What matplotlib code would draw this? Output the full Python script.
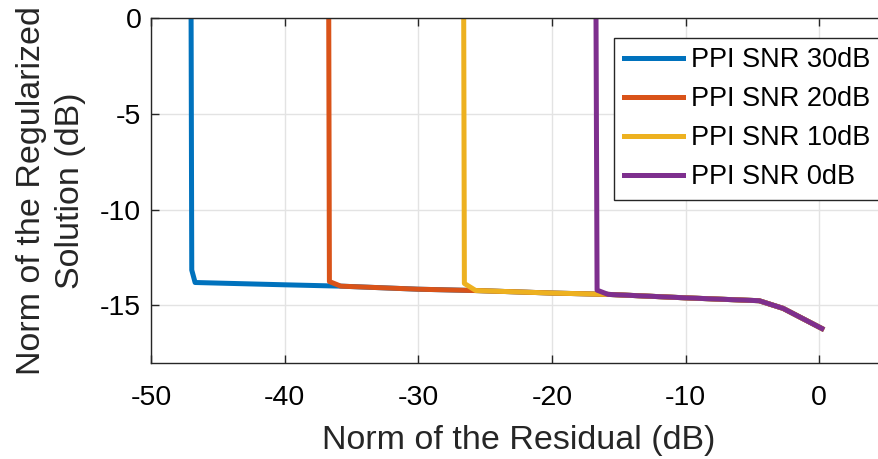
import numpy as np
from matplotlib import pyplot as plt

plt.rcParams["font.family"] = ["Liberation Sans", "DejaVu Sans"]
plt.rcParams["axes.unicode_minus"] = False

labels = ["PPI SNR 30dB", "PPI SNR 20dB", "PPI SNR 10dB", "PPI SNR 0dB"]
colors = ["#0072BD", "#D95319", "#EDB120", "#7E2F8E"]

# shared tail of the L-curves (residual dB, solution dB)
tail_x = [-46.7, -40.0, -35.8, -30.0, -25.7, -20.0, -15.8, -10.0, -4.5, -2.7, 0.2]
tail_y = [-13.80, -13.92, -13.99, -14.15, -14.22, -14.35, -14.42, -14.60, -14.75, -15.15, -16.20]

# vertical part of each curve: x at top, x and y at the knee
vert_top_x = [-47.0, -36.7, -26.6, -16.7]
vert_knee_x = [-46.95, -36.65, -26.55, -16.62]
vert_knee_y = [-13.15, -13.75, -13.85, -14.20]

fig = plt.figure(figsize=(8.79, 4.59), dpi=100)
ax = fig.add_axes([151 / 879, 96 / 459, 735 / 879, 345 / 459])

for i in range(4):
    start = int(np.searchsorted(tail_x, vert_knee_x[i], side="right"))
    xs = [vert_top_x[i], vert_knee_x[i]] + tail_x[start:]
    ys = [0.0, vert_knee_y[i]] + tail_y[start:]
    ax.plot(xs, ys, color=colors[i], lw=3.6, label=labels[i], solid_joinstyle="round")

ax.set_xlim(-50, 5)
ax.set_ylim(-18, 0)
ax.set_xticks([-50, -40, -30, -20, -10, 0])
ax.set_yticks([-15, -10, -5, 0])
ax.grid(True, color="#e3e3e3", lw=1.0)
ax.set_axisbelow(True)
ax.tick_params(direction="in", length=6, width=1.0, color="#262626",
               labelsize=20.5, top=True, right=True)
ax.tick_params(axis="x", pad=16)
ax.tick_params(axis="y", pad=7)
for s in ax.spines.values():
    s.set_color("#262626")
    s.set_linewidth(1.0)

ax.set_xlabel("Norm of the Residual (dB)", fontsize=24.5, labelpad=10, color="#262626")
ax.set_ylabel("Norm of the Regularized\nSolution (dB)", fontsize=24.5, labelpad=10,
              linespacing=1.36, color="#262626")

leg = ax.legend(loc="upper left", bbox_to_anchor=(0.63, 0.943), borderaxespad=0,
                fontsize=19.5, fancybox=False, framealpha=1, edgecolor="#262626",
                handlelength=2.18, handletextpad=0.3, labelspacing=0.48,
                borderpad=0.36)
leg.get_frame().set_linewidth(1.0)

fig.savefig("out.png", dpi=100)
